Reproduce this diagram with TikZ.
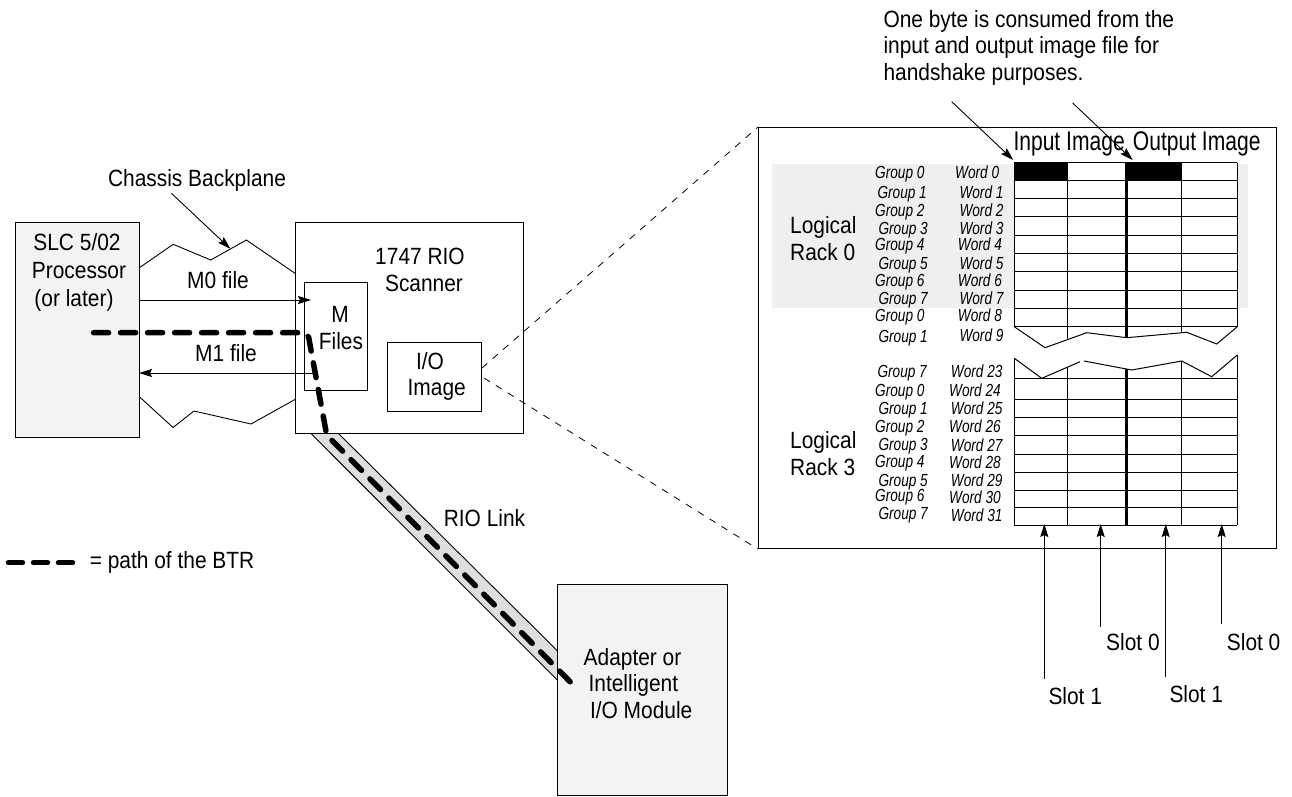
\documentclass[tikz,border=0pt]{standalone}
\usepackage{fontspec}
\setmainfont{Liberation Sans}[FakeStretch=0.89]
\newfontfamily\hdrfont{Liberation Sans}[FakeStretch=0.78]
\newfontfamily\lblfont{Liberation Sans}[FakeStretch=0.78]
\usetikzlibrary{arrows.meta}
\definecolor{boxfill}{HTML}{F2F3F2}
\definecolor{rackfill}{HTML}{EEEFEE}
\definecolor{linkfill}{HTML}{DDDEE0}
\begin{document}
\begin{tikzpicture}[x=1pt,y=-1pt,
 txt/.style={inner sep=0pt, anchor=base, font=\fontsize{23.5}{26}\selectfont},
 hdr/.style={inner sep=0pt, anchor=base west, font=\hdrfont\fontsize{27}{30}\selectfont},
 lbl/.style={inner sep=0pt, anchor=base west, font=\lblfont\itshape\fontsize{17.5}{20}\selectfont},
 box/.style={draw, line width=1.1pt, inner sep=0pt, anchor=north west},
 thinline/.style={line width=0.9pt},
 arr/.style={line width=0.9pt, -{Stealth[length=13pt,width=8pt,inset=2pt]}},
 zoomline/.style={line width=0.8pt, dash pattern=on 7pt off 7pt},
 btr/.style={line width=5.5pt, line cap=round, dash pattern=on 15pt off 12pt},
 gridline/.style={line width=1pt},
 thickgrid/.style={line width=3.2pt},
]
\useasboundingbox (0,0) rectangle (1292,796);

% RIO link band
\fill[linkfill] (310.7,433.3) -- (338.3,433.3) -- (557.3,650.7) -- (557.3,680) -- cycle;
\draw[thinline] (310.7,433.3) -- (557.3,680);
\draw[thinline] (338.3,433.3) -- (557.3,650.7);

% boxes
\node[box, fill=boxfill, minimum width=124pt, minimum height=215pt] (slc) at (15,222) {};
\node[box, minimum width=228pt, minimum height=211pt] (scan) at (295,222) {};
\node[box, minimum width=63pt, minimum height=108pt] (mf) at (304,282) {};
\node[box, minimum width=94pt, minimum height=69pt] (io) at (387,342) {};
\node[box, fill=boxfill, minimum width=170pt, minimum height=211pt] (adp) at (557,584) {};
\node[box, minimum width=518pt, minimum height=421pt] (tbl) at (758,127) {};

% chassis backplane zigzags
\draw[thinline] (140,267.3) -- (173.2,244.3) -- (210.7,260) -- (246.4,240) -- (295,273.3);
\draw[thinline] (140,397.3) -- (173,427.5) -- (194,411) -- (251,424) -- (295,399.5);

% texts left
\node[txt] (chassis) at (197,186.5) {Chassis Backplane};
\node[txt] (slc1) at (77,250) {SLC 5/02};
\node[txt] (slc2) at (79,278) {Processor};
\node[txt] (slc3) at (74,306) {(or later)};
\node[txt] (m0) at (218,288.3) {M0 file};
\node[txt] (m1) at (226,361) {M1 file};
\node[txt] (mlet) at (340,322.7) {M};
\node[txt] (files) at (341,349.3) {Files};
\node[txt] (rio1) at (420,264) {1747 RIO};
\node[txt] (rio2) at (424,291) {Scanner};
\node[txt] (io1) at (430,369.3) {I/O};
\node[txt] (io2) at (436.7,395) {Image};
\node[txt] (riolink) at (484.5,526.5) {RIO Link};
\node[txt, anchor=base west] (leg) at (89.6,568.3) {= path of the BTR};
\node[txt, anchor=base west] (ad1) at (583.5,665) {Adapter or};
\node[txt, anchor=base west] (ad2) at (588.4,691.7) {Intelligent};
\node[txt, anchor=base west] (ad3) at (589.8,718.3) {I/O Module};

% arrows left
\coordinate (cbs) at (171.4,193.3);
\coordinate (cbe) at (230.4,248.8);
\draw[arr] (cbs) -- (cbe);
\coordinate (m0s) at (139,300);
\coordinate (m0e) at (311,300);
\draw[arr] (m0s) -- (m0e);
\coordinate (m1s) at (313,373);
\coordinate (m1e) at (139,373);
\draw[arr] (m1s) -- (m1e);

% zoom lines
\coordinate (zu) at (482,368);
\coordinate (zl) at (484,378);
\draw[zoomline] (zu) -- (tbl.north west);
\draw[zoomline] (zl) -- (tbl.south west);

% BTR path
\coordinate (b0) at (93.6,332.7);
\coordinate (b1) at (302,332.7);
\coordinate (b2) at (309.5,342);
\coordinate (b3) at (326.7,435);
\coordinate (b4) at (573.3,685);
\draw[btr] (b0) -- (b1) .. controls (307,332.7) and (309,336) .. (b2) -- (b3) -- (b4);
\coordinate (l0) at (8.5,562.7);
\coordinate (l1) at (73,562.7);
\draw[btr, dash pattern=on 14pt off 11pt] (l0) -- (l1);

% top annotation
\node[txt, anchor=base west] (n1) at (883.3,27) {One byte is consumed from the};
\node[txt, anchor=base west] (n2) at (883.3,53.5) {input and output image file for};
\node[txt, anchor=base west] (n3) at (883.3,80) {handshake purposes.};
\coordinate (a1s) at (951.7,101.7);
\coordinate (a1e) at (1013.3,160);
\coordinate (a2s) at (1072.7,103);
\coordinate (a2e) at (1132.7,160);

% rack 0 background
\fill[rackfill] (771.7,164.3) rectangle (1247.7,308.3);

% headers
\node[hdr] (inimg) at (1013.3,150) {Input Image};
\node[hdr] (outimg) at (1132.7,150) {Output Image};

% upper grid
\fill[white] (1014.3,162.7) rectangle (1237.3,326.7);
\fill (1014.3,162.7) rectangle (1067,180);
\fill (1126.7,162.7) rectangle (1181,180);
\foreach \yy in {162.7,180,198.3,216.7,235,253.3,271.7,290,308.3,326.7}
  \draw[gridline] (1014.3,\yy) -- (1237.3,\yy);
\draw[gridline] (1014.3,162.7) -- (1014.3,326.7);
\draw[gridline] (1067,162.7) -- (1067,339.8);
\draw[gridline] (1181,162.7) -- (1181,332.8);
\draw[gridline] (1237.3,162.7) -- (1237.3,326.7);
\draw[thickgrid] (1126.7,162.7) -- (1126.7,337.7);
\draw[gridline] (1014.3,326.7) -- (1045,347.7) -- (1086.7,332.7) -- (1126.7,337.7) -- (1186.7,332.3) -- (1216.7,344) -- (1237.3,326.7);

% lower grid
\draw[gridline] (1014.3,358.3) -- (1041.7,378.3) -- (1080,361.7);
\draw[gridline] (1084,361) -- (1131.7,370) -- (1181.7,361) -- (1211.7,376.7) -- (1237.3,355);
\foreach \yy in {378.3,399,417.3,435.7,454,472.3,490,507.3,525}
  \draw[gridline] (1014.3,\yy) -- (1237.3,\yy);
\draw[gridline] (1014.3,358.3) -- (1014.3,525);
\draw[gridline] (1067,367.3) -- (1067,525);
\draw[gridline] (1181,361.2) -- (1181,525);
\draw[gridline] (1237.3,355) -- (1237.3,525);
\draw[thickgrid] (1126.7,369) -- (1126.7,525);

% annotation arrows
\draw[arr] (a1s) -- (a1e);
\draw[arr] (a2s) -- (a2e);

% logical rack labels
\node[txt, anchor=base west] (lr0a) at (790,233.3) {Logical};
\node[txt, anchor=base west] (lr0b) at (790,260) {Rack 0};
\node[txt, anchor=base west] (lr3a) at (790,448.3) {Logical};
\node[txt, anchor=base west] (lr3b) at (790,475) {Rack 3};

% group / word labels
\foreach \gx/\gy/\gt [count=\i] in {875/171.7/Group 0, 877.3/192.3/Group 1, 875/210/Group 2, 878.3/228.3/Group 3, 875/244.3/Group 4, 878.3/263.3/Group 5, 875/280.3/Group 6, 878.3/297.7/Group 7, 875/315/Group 0, 878.3/336/Group 1, 877.3/370.7/Group 7, 875/390/Group 0, 878.3/408.3/Group 1, 875/426/Group 2, 878.3/444/Group 3, 875/460.7/Group 4, 878.3/480/Group 5, 875/495/Group 6, 878.3/513.3/Group 7}
  \node[lbl] (g\i) at ({\gx},{\gy+6.5}) {\gt};
\foreach \wx/\wy/\wt [count=\i] in {955/171.7/Word 0, 959.3/192.3/Word 1, 959.3/210/Word 2, 959.3/228.3/Word 3, 957.7/244.3/Word 4, 959.3/263.3/Word 5, 957.7/280.3/Word 6, 959.3/297.7/Word 7, 957.7/315/Word 8, 959.3/335/Word 9, 950.7/370.7/Word 23, 949/390/Word 24, 950.7/408.3/Word 25, 949/426/Word 26, 950.7/445/Word 27, 949/461.7/Word 28, 950.7/480/Word 29, 949/497.3/Word 30, 950.7/515/Word 31}
  \node[lbl] (w\i) at ({\wx},{\wy+6.5}) {\wt};

% slot arrows
\coordinate (s1s) at (1044.3,679.3);
\coordinate (s1e) at (1044.3,524);
\coordinate (s2s) at (1100.7,626.7);
\coordinate (s2e) at (1100.7,524);
\coordinate (s3s) at (1165.7,677.3);
\coordinate (s3e) at (1165.7,524);
\coordinate (s4s) at (1221.7,624.3);
\coordinate (s4e) at (1221.7,524);
\draw[arr] (s1s) -- (s1e);
\draw[arr] (s2s) -- (s2e);
\draw[arr] (s3s) -- (s3e);
\draw[arr] (s4s) -- (s4e);
\node[txt, anchor=base west] (sl1) at (1048.3,704.3) {Slot 1};
\node[txt, anchor=base west] (sl2) at (1106,650) {Slot 0};
\node[txt, anchor=base west] (sl3) at (1169.3,702.3) {Slot 1};
\node[txt, anchor=base west] (sl4) at (1226.7,650) {Slot 0};
\end{tikzpicture}
\end{document}
